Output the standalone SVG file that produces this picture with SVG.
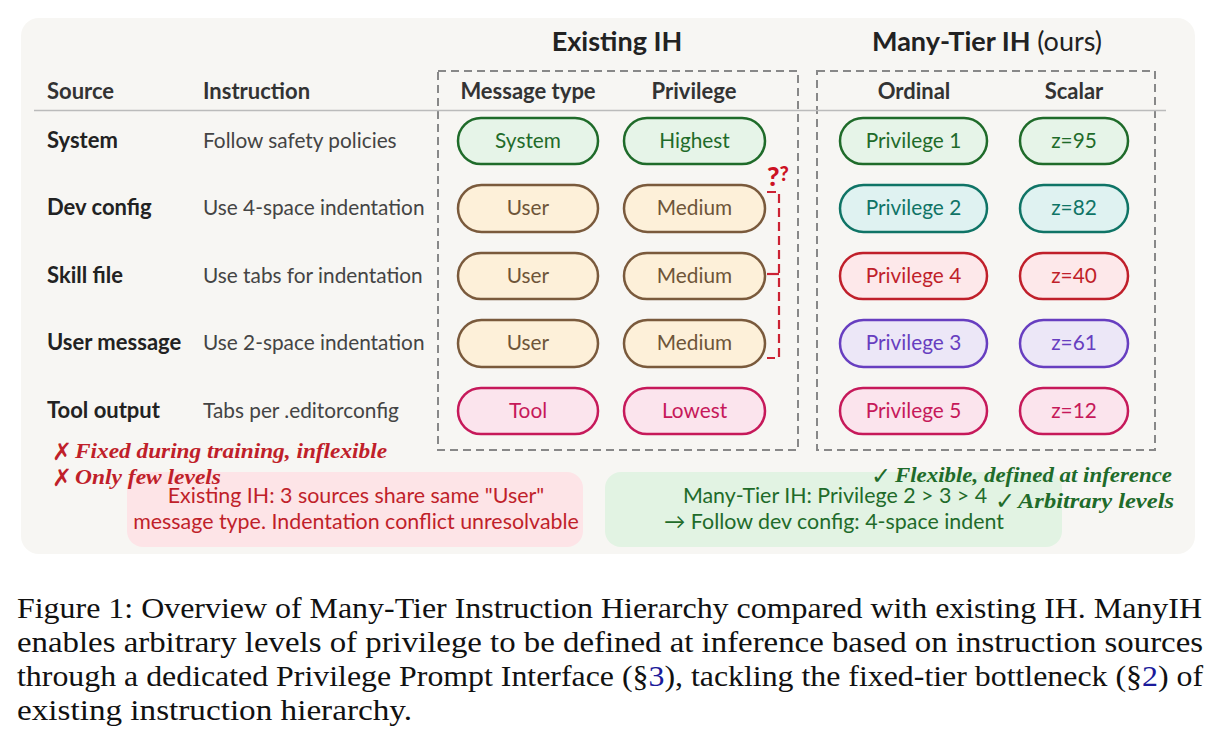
<svg xmlns="http://www.w3.org/2000/svg" width="1219" height="742" viewBox="0 0 1219 742">
<style>
.hdr{font-family:Lato,"Liberation Sans",sans-serif;font-weight:700;font-size:22px;fill:#333}
.title{font-family:Lato,"Liberation Sans",sans-serif;font-weight:700;font-size:27px;fill:#222}
.src{font-family:Lato,"Liberation Sans",sans-serif;font-weight:700;font-size:22px;fill:#222}
.ins{font-family:Lato,"Liberation Sans",sans-serif;font-size:20.8px;fill:#444}
.pt{font-family:Lato,"Liberation Sans",sans-serif;font-size:20.8px;text-anchor:middle}
.dash{fill:none;stroke:#888;stroke-width:2;stroke-dasharray:8 5}
.green rect{fill:#e6f4e8;stroke:#1f6b2a;stroke-width:2.5}.green text{fill:#1f6b2a}
.brown rect{fill:#fdf0d9;stroke:#7a5a3c;stroke-width:2.5}.brown text{fill:#6e5538}
.teal rect{fill:#dff2f1;stroke:#0f7466;stroke-width:2.5}.teal text{fill:#0f7466}
.red rect{fill:#fde8ea;stroke:#c01f2a;stroke-width:2.5}.red text{fill:#c01f2a}
.purple rect{fill:#ece7f7;stroke:#673ec0;stroke-width:2.5}.purple text{fill:#673ec0}
.pink rect{fill:#fbe4ed;stroke:#c6195a;stroke-width:2.5}.pink text{fill:#c6195a}
.note{font-family:"Liberation Serif","DejaVu Serif",serif;font-style:italic;font-weight:700;font-size:20px}
.mark{font-family:"DejaVu Sans",sans-serif;font-size:24px}
.box{font-family:Lato,"Liberation Sans",sans-serif;font-size:21.4px;text-anchor:middle}
.cap{font-family:"Liberation Serif","Times New Roman",serif;font-size:30px;fill:#111}
</style>
<rect x="0" y="0" width="1219" height="742" fill="#fff"/>
<rect id="panel" x="21" y="18" width="1174" height="536" rx="18" fill="#f7f6f3"/>

<!-- titles -->
<text class="title" x="617" y="51" text-anchor="middle">Existing IH</text>
<text class="title" x="987" y="51" text-anchor="middle">Many-Tier IH <tspan font-weight="400">(ours)</tspan></text>

<!-- dashed frames -->
<rect class="dash" x="438" y="71" width="360" height="379"/>
<rect class="dash" x="817" y="71" width="338" height="379"/>

<!-- header -->
<line x1="34" y1="110.5" x2="1166" y2="110.5" stroke="#bbb" stroke-width="1.6"/>
<text class="hdr" x="47" y="99">Source</text>
<text class="hdr" x="203" y="99">Instruction</text>
<text class="hdr" x="528" y="99" text-anchor="middle">Message type</text>
<text class="hdr" x="694" y="99" text-anchor="middle">Privilege</text>
<text class="hdr" x="914" y="99" text-anchor="middle">Ordinal</text>
<text class="hdr" x="1074" y="99" text-anchor="middle">Scalar</text>

<!-- rows -->
<g id="row-system">
<text class="src" x="47" y="148">System</text>
<text class="ins" x="203" y="148">Follow safety policies</text>
<g class="green"><rect x="458" y="118" width="140" height="46" rx="23"/><text class="pt" x="528" y="148">System</text></g>
<g class="green"><rect x="624" y="118" width="141" height="46" rx="23"/><text class="pt" x="694.5" y="148">Highest</text></g>
<g class="green"><rect x="840" y="118" width="147" height="46" rx="23"/><text class="pt" x="913.5" y="148">Privilege 1</text></g>
<g class="green"><rect x="1020" y="118" width="108" height="46" rx="23"/><text class="pt" x="1074" y="148">z=95</text></g>
</g>

<g id="row-dev">
<text class="src" x="47" y="215">Dev config</text>
<text class="ins" x="203" y="215">Use 4-space indentation</text>
<g class="brown"><rect x="458" y="185" width="140" height="47" rx="23.5"/><text class="pt" x="528" y="215">User</text></g>
<g class="brown"><rect x="624" y="185" width="141" height="47" rx="23.5"/><text class="pt" x="694.5" y="215">Medium</text></g>
<g class="teal"><rect x="840" y="185" width="147" height="47" rx="23.5"/><text class="pt" x="913.5" y="215">Privilege 2</text></g>
<g class="teal"><rect x="1020" y="185" width="108" height="47" rx="23.5"/><text class="pt" x="1074" y="215">z=82</text></g>
</g>

<g id="row-skill">
<text class="src" x="47" y="283">Skill file</text>
<text class="ins" x="203" y="283">Use tabs for indentation</text>
<g class="brown"><rect x="458" y="253" width="140" height="46" rx="23"/><text class="pt" x="528" y="283">User</text></g>
<g class="brown"><rect x="624" y="253" width="141" height="46" rx="23"/><text class="pt" x="694.5" y="283">Medium</text></g>
<g class="red"><rect x="840" y="253" width="147" height="46" rx="23"/><text class="pt" x="913.5" y="283">Privilege 4</text></g>
<g class="red"><rect x="1020" y="253" width="108" height="46" rx="23"/><text class="pt" x="1074" y="283">z=40</text></g>
</g>

<g id="row-user">
<text class="src" x="47" y="350">User message</text>
<text class="ins" x="203" y="350">Use 2-space indentation</text>
<g class="brown"><rect x="458" y="320" width="140" height="47" rx="23.5"/><text class="pt" x="528" y="350">User</text></g>
<g class="brown"><rect x="624" y="320" width="141" height="47" rx="23.5"/><text class="pt" x="694.5" y="350">Medium</text></g>
<g class="purple"><rect x="840" y="320" width="147" height="47" rx="23.5"/><text class="pt" x="913.5" y="350">Privilege 3</text></g>
<g class="purple"><rect x="1020" y="320" width="108" height="47" rx="23.5"/><text class="pt" x="1074" y="350">z=61</text></g>
</g>

<g id="row-tool">
<text class="src" x="47" y="418">Tool output</text>
<text class="ins" x="203" y="418">Tabs per .editorconfig</text>
<g class="pink"><rect x="458" y="388" width="140" height="46" rx="23"/><text class="pt" x="528" y="418">Tool</text></g>
<g class="pink"><rect x="624" y="388" width="141" height="46" rx="23"/><text class="pt" x="694.5" y="418">Lowest</text></g>
<g class="pink"><rect x="840" y="388" width="147" height="46" rx="23"/><text class="pt" x="913.5" y="418">Privilege 5</text></g>
<g class="pink"><rect x="1020" y="388" width="108" height="46" rx="23"/><text class="pt" x="1074" y="418">z=12</text></g>
</g>

<!-- conflict bracket -->
<g id="connectors" fill="none" stroke="#cc2233" stroke-width="2.2">
<path d="M767 192 H779 V358 H767" stroke-dasharray="9 5"/>
<path d="M767 274 H779"/>
</g>
<text x="767" y="186" font-family="Lato,'Liberation Sans',sans-serif" font-weight="900" font-size="27" fill="#cc1122">?<tspan font-size="20" dy="-5">?</tspan></text>

<g id="box-existing">
<rect x="127" y="472" width="456" height="75" rx="16" fill="#fde4e7"/>
<text class="box" x="356" y="503" fill="#c01f2a">Existing IH: 3 sources share same "User"</text>
<text class="box" x="356" y="529" fill="#c01f2a">message type. Indentation conflict unresolvable</text>
</g>

<g id="box-manytier">
<rect x="605" y="472" width="457" height="75" rx="16" fill="#e2f3e3"/>
<text class="box" x="835" y="503" fill="#1f6b2a">Many-Tier IH: Privilege 2 &gt; 3 &gt; 4</text>
<text class="box" x="834" y="529" fill="#1f6b2a">→ Follow dev config: 4-space indent</text>
</g>

<!-- existing IH notes -->
<g id="note-existing" fill="#c01f2a">
<text class="mark" x="52" y="460">✗</text>
<text class="note" x="75" y="458" textLength="312" lengthAdjust="spacingAndGlyphs">Fixed during training, inflexible</text>
<text class="mark" x="52" y="486">✗</text>
<text class="note" x="75" y="484" textLength="146" lengthAdjust="spacingAndGlyphs">Only few levels</text>
</g>

<g id="note-manytier" fill="#1f6b2a">
<text class="mark" x="871" y="484">✓</text>
<text class="note" x="1172" y="482" text-anchor="end" textLength="277" lengthAdjust="spacingAndGlyphs">Flexible, defined at inference</text>
<text class="mark" x="995" y="509">✓</text>
<text class="note" x="1174" y="508" text-anchor="end" textLength="156" lengthAdjust="spacingAndGlyphs">Arbitrary levels</text>
</g>

<!-- caption -->
<g id="caption">
<text class="cap" x="17" y="618" textLength="1185" lengthAdjust="spacingAndGlyphs">Figure 1: Overview of Many-Tier Instruction Hierarchy compared with existing IH. ManyIH</text>
<text class="cap" x="17" y="652" textLength="1186" lengthAdjust="spacingAndGlyphs">enables arbitrary levels of privilege to be defined at inference based on instruction sources</text>
<text class="cap" x="17" y="686" textLength="1186" lengthAdjust="spacingAndGlyphs">through a dedicated Privilege Prompt Interface (§<tspan fill="#1a1a9a">3</tspan>), tackling the fixed-tier bottleneck (§<tspan fill="#1a1a9a">2</tspan>) of</text>
<text class="cap" x="17" y="720" textLength="395" lengthAdjust="spacingAndGlyphs">existing instruction hierarchy.</text>
</g>
</svg>
